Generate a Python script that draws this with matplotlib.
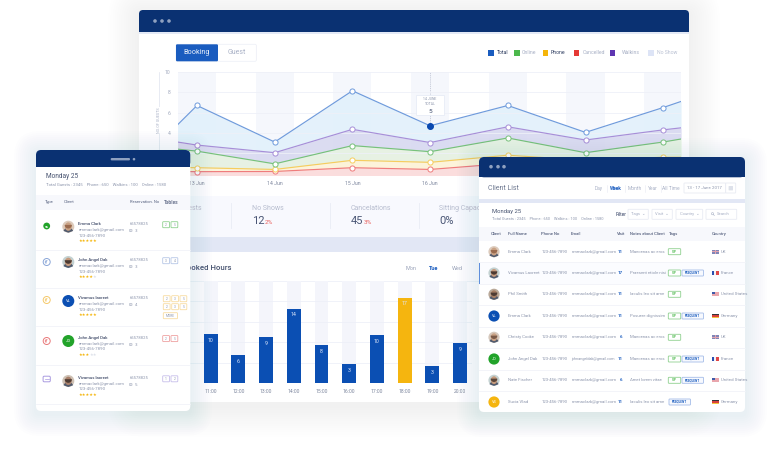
import matplotlib
matplotlib.use("Agg")
import matplotlib.pyplot as plt
from matplotlib.patches import FancyBboxPatch, Rectangle, Circle, Ellipse, Wedge

plt.rcParams['font.family'] = ['Roboto', 'DejaVu Sans']

# ---------- data ----------
days = ['13 Jun', '14 Jun', '15 Jun', '16 Jun', '17 Jun', '18 Jun', '19 Jun']
visible_days = days[:4]
x_line = [-0.25, 0, 1, 2, 3, 4, 5, 6, 6.23]
total = [4.8, 6.7, 3.1, 8.15, 4.7, 6.7, 4.05, 6.5, 7.1]
walkins = [3.1, 2.8, 2.05, 4.35, 3.05, 4.6, 3.3, 4.3, 4.5]
online = [2.4, 2.2, 0.95, 2.75, 2.15, 3.5, 2.05, 3.1, 3.4]
phone = [0.6, 0.57, 0.4, 1.3, 1.1, 1.8, 1.3, 1.6, 1.6]
cancelled = [0.2, 0.18, 0.2, 0.57, 0.4, 1.0, 1.0, 1.0, 1.0]
y_ticks = [2, 4, 6, 8, 10]

hours = ['11:00', '12:00', '13:00', '14:00', '15:00', '16:00', '17:00', '18:00', '19:00', '20:00']
bar_values = [9.6, 5.55, 9.0, 14.6, 7.5, 3.7, 9.35, 16.7, 3.4, 7.8]
bar_labels = ['10', '6', '9', '14', '8', '3', '10', '17', '3', '9']
peak_hour = '18:00'

legend_names = ['Total', 'Online', 'Phone', 'Cancelled', 'Walkins', 'No Show']
legend_colors = ['#1a5cbf', '#4cb84c', '#f5b50a', '#e53935', '#5e35b1', '#dde4f6']
legend_sq_x = [491, 517, 545.5, 576.5, 612.5, 651]
legend_tx_x = [496.5, 522, 550.5, 583, 622, 657]
legend_text = ['#2b3a5e', '#a9b1c6', '#2b3a5e', '#a9b1c6', '#a9b1c6', '#b9c0d2']

res_names = ['Emma Clark', 'John Angel Dak', 'Vivamus laoreet', 'John Angel Dak', 'Vivamus laoreet']
res_email = 'emmaclark@gmail.com'
res_phone = '123-456-7890'
res_stars = [5, 4, 5, 3, 5]
res_no = ['65578825', '65578825', '65578825', '65578825', '65578825']
res_guest = ['3', '3', '4', '3', '5']
res_colors = ['#4cb84c', '#8aa6d8', '#f5c96a', '#e9797a', '#a99ae0']

client_names = ['Emma Clark', 'Vivamus Laoreet', 'Phil Smith', 'Emma Clark', 'Christy Cooke',
                'John Angel Dak', 'Nate Fischer', 'Sucia Vlad']
client_mail = ['emmaclark@gmail.com'] * 5 + ['johnangeldak@gmail.com'] + ['emmaclark@gmail.com'] * 2
client_visit = ['11', '17', '11', '11', '6', '11', '6', '11']
client_notes = ['Maecenas ac eros', 'Praesent etiole nisi', 'Iaculis leo sit ame', 'Posuere dignissim',
                'Maecenas ac eros', 'Maecenas ac eros', 'Amet lorem vitae', 'Iaculis leo sit ame']
client_vip = [1, 1, 1, 1, 1, 1, 1, 0]
client_freq = [0, 1, 0, 1, 0, 1, 1, 1]
client_country = ['UK', 'France', 'United States', 'Germany', 'UK', 'France', 'United States', 'Germany']

# ---------- helpers ----------
W, H = 782, 450
fig = plt.figure(figsize=(W / 100, H / 100), dpi=100, facecolor='white')


def px_axes(x0, y0, x1, y1, z):
    return fig.add_axes([x0 / W, 1 - y1 / H, (x1 - x0) / W, (y1 - y0) / H], zorder=z)


def page_axes(z):
    a = fig.add_axes([0, 0, 1, 1], zorder=z)
    a.set_xlim(0, W)
    a.set_ylim(H, 0)
    a.axis('off')
    a.patch.set_alpha(0)
    return a


def rrect(a, x0, y0, x1, y1, r=1.5, fc='white', ec='none', lw=0.5, alpha=None, z=2):
    p = FancyBboxPatch((x0 + r, y0 + r), x1 - x0 - 2 * r, y1 - y0 - 2 * r,
                       boxstyle=f'round,pad={r},rounding_size={r}',
                       fc=fc, ec=ec, lw=lw, alpha=alpha, zorder=z)
    a.add_patch(p)
    return p


def rect(a, x0, y0, x1, y1, fc, z=2, alpha=None):
    a.add_patch(Rectangle((x0, y0), x1 - x0, y1 - y0, fc=fc, ec='none', zorder=z, alpha=alpha))


def txt(a, x, y, s, size=3.6, color='#8d96ad', ha='left', weight='normal', z=5, **kw):
    return a.text(x, y, s, fontsize=size, color=color, ha=ha, va='center', weight=weight, zorder=z, **kw)


def shadow(a, x0, y0, x1, y1, n=12, step=2.2, alpha=0.005, dy=4):
    for i in range(n, 0, -1):
        g = i * step
        rrect(a, x0 - g, y0 - g + dy, x1 + g, y1 + g + dy, r=4 + g, fc='#5a78b5', alpha=alpha, z=1)


def avatar(a, x, y, r, kind):
    if kind in ('#0b4fb3', '#22a32a', '#f5b50f'):
        a.add_patch(Circle((x, y), r, fc=kind, ec='none', zorder=4))
        return
    bg, skin, hair = kind
    a.add_patch(Circle((x, y), r, fc=bg, ec='none', zorder=4))
    a.add_patch(Wedge((x, y + r), r * 0.85, 200, 340, fc='#4f5a6e', ec='none', zorder=5))
    a.add_patch(Ellipse((x, y - r * 0.02), r * 1.15, r * 1.4, fc=skin, ec='none', zorder=6))
    a.add_patch(Wedge((x, y - r * 0.3), r * 0.6, 0, 180, fc=hair, ec='none', zorder=7))


def flag(a, x, y, country):
    w, h = 6.5, 4.2
    if country == 'France':
        for i, c in enumerate(['#2b4fb0', '#f2f2f6', '#e04848']):
            rect(a, x + i * w / 3, y - h / 2, x + (i + 1) * w / 3, y + h / 2, c, z=5)
    elif country == 'Germany':
        for i, c in enumerate(['#33333a', '#d8403a', '#f3c33c']):
            rect(a, x, y - h / 2 + i * h / 3, x + w, y - h / 2 + (i + 1) * h / 3, c, z=5)
    elif country == 'UK':
        rect(a, x, y - h / 2, x + w, y + h / 2, '#7f86b8', z=5)
        rect(a, x + w * 0.42, y - h / 2, x + w * 0.58, y + h / 2, '#e2a4b0', z=5)
        rect(a, x, y - 0.5, x + w, y + 0.5, '#e2a4b0', z=5)
    else:
        rect(a, x, y - h / 2, x + w, y + h / 2, '#e9a6ad', z=5)
        rect(a, x, y - h / 2, x + w * 0.45, y, '#3f5aa8', z=5)


# ---------- back layer: main window ----------
base = page_axes(0)
shadow(base, 139, 10, 689, 402, n=14, step=2.2, alpha=0.005)
rrect(base, 139, 10, 689, 402, r=4, fc='white')
rrect(base, 139, 10, 689, 32, r=4, fc='#0a3172', z=3)
rect(base, 139, 20, 689, 32, '#0a3172', z=3)
rect(base, 139, 32, 689, 33.8, '#e3e9f6', z=3)
for x in (155, 162, 169):
    base.add_patch(Circle((x, 21), 1.8, fc='#8fa1c0', ec='none', zorder=4))

rrect(base, 176, 44.3, 256.4, 61.3, r=1.5, fc='white', ec='#eef0f7', lw=0.6, z=3)
rrect(base, 176, 44.3, 218, 61.3, r=1.2, fc='#1a5cbf', z=4)
txt(base, 197, 52.8, 'Booking', 5.2, '#eaf0fb', ha='center')
txt(base, 237, 52.8, 'Guest', 5.0, '#a9b1c6', ha='center')
for n, c, sx, tx, tc in zip(legend_names, legend_colors, legend_sq_x, legend_tx_x, legend_text):
    rect(base, sx - 2.7, 50.3, sx + 2.7, 55.7, c, z=4)
    txt(base, tx, 53, n, 3.7, tc)

base.plot([158.6, 158.6], [72, 108], color='#dfe3ee', lw=0.5, zorder=3)
base.plot([158.6, 158.6], [133, 175], color='#dfe3ee', lw=0.5, zorder=3)
txt(base, 158.6, 120, 'NO.OF GUESTS', 2.7, '#a9b1c6', ha='center', rotation=90, bbox=dict(fc='white', ec='none', pad=0.4))

# stat strip
rect(base, 139, 196, 689, 237, '#f8f9fe', z=3)
rect(base, 139, 237, 689, 252, '#e2e7f5', z=3)
for x in (231.3, 330, 419.3):
    base.plot([x, x], [203, 228], color='#e9ecf5', lw=0.6, zorder=4)
txt(base, 201.7, 209, 'Total Guests', 5.0, '#b7bdcf', ha='right')
txt(base, 251.7, 209, 'No Shows', 5.0, '#b7bdcf')
txt(base, 251.7, 221, '12', 8.0, '#4a5675')
txt(base, 264.7, 222, '2%', 4.6, '#e9615e')
txt(base, 350.7, 209, 'Cancelations', 5.0, '#b7bdcf')
txt(base, 350.7, 221, '45', 8.0, '#4a5675')
txt(base, 364, 222, '3%', 4.6, '#e9615e')
txt(base, 439.3, 209, 'Sitting Capacity', 5.0, '#b7bdcf')
txt(base, 439.3, 221, '0%', 8.0, '#4a5675')

txt(base, 231, 268, 'Booked Hours', 5.6, '#46526f', ha='right', weight='medium')
txt(base, 410.7, 268, 'Mon', 4.0, '#98a1b8', ha='center')
txt(base, 434, 268, 'Tue', 4.0, '#1a5cbf', ha='center', weight='bold')
txt(base, 457.3, 268, 'Wed', 4.0, '#98a1b8', ha='center')
base.plot([190, 689], [281, 281], color='#eef0f8', lw=0.6, zorder=4)

# ---------- line chart ----------
lx0, lx1 = 177.5, 681
ly0, ly1 = 72, 175
lax = px_axes(lx0, ly0, lx1, ly1, 1)
step = 77.7
lax.set_xlim((lx0 - 197) / step, (lx1 - 197) / step)
lax.set_ylim((173.5 - ly1) / 10.15, (173.5 - ly0) / 10.15)
lax.patch.set_alpha(0)
for s in lax.spines.values():
    s.set_visible(False)
for i in range(len(days)):
    lax.axvspan(i - 0.245, i + 0.245, color='#f5f7fc', lw=0, zorder=0)
lax.set_yticks(y_ticks)
lax.set_yticklabels([str(v) for v in y_ticks])
lax.set_xticks(range(len(visible_days)))
lax.set_xticklabels(visible_days)
lax.tick_params(axis='y', length=0, labelsize=3.6, labelcolor='#a0a8bd', pad=5)
lax.tick_params(axis='x', length=0, labelsize=3.7, labelcolor='#7d869e', pad=4.5)
lax.grid(axis='y', color='#eef0f8', lw=0.6, zorder=1)
lax.set_axisbelow(False)

layers = [(total, walkins, '#e3f1fb'), (walkins, online, '#d9daf1'), (online, phone, '#e6f1e2'),
          (phone, cancelled, '#fdf3d8')]
for hi, lo, c in layers:
    lax.fill_between(x_line, lo, hi, color=c, lw=0, alpha=0.95, zorder=2)
lax.fill_between(x_line, -1, cancelled, color='#fbdcdc', lw=0, alpha=0.95, zorder=2)
series = [(cancelled, '#ef7c7c'), (phone, '#f6cd5e'), (online, '#77c27a'), (walkins, '#a78fd8'), (total, '#6f9bdc')]
inner = list(range(1, len(x_line) - 1))
for vals, c in series:
    lax.plot(x_line, vals, color=c, lw=0.85, zorder=3, marker='o', ms=3.7, mfc='white', mec=c, mew=0.7,
             markevery=inner)
sel = days.index('16 Jun')
lax.plot([sel, sel], [total[sel + 1], 10], color='#b6bccd', lw=0.5, ls=(0, (1.5, 1.2)), zorder=2.5)
lax.plot([sel], [total[sel + 1]], marker='o', ms=4, color='#0b49b0', zorder=4)
lax.annotate('14 JUNE\nTOTAL', xy=(sel, total[sel + 1]), xytext=(0, 17.2), textcoords='offset points',
             ha='center', va='center', fontsize=2.5, color='#8d96ad', zorder=7, linespacing=1.3)
lax.annotate('5', xy=(sel, total[sel + 1]), xytext=(0, 10.6), textcoords='offset points',
             ha='center', va='center', fontsize=4.6, color='#3c4a6b', zorder=7)
lax.add_patch(Rectangle((sel - 0.18, 5.76), 0.36, 1.97, fc='white', ec='#e8ecf6', lw=0.6, zorder=6))

# ---------- bar chart ----------
bx0, bx1 = 190, 472
by0, by1 = 281, 383.3
bax = px_axes(bx0, by0, bx1, by1, 1)
bstep = 27.7
bax.set_xlim((bx0 - 210.7) / bstep, (bx1 - 210.7) / bstep)
bax.set_ylim(0, 20)
bax.patch.set_alpha(0)
for s in bax.spines.values():
    s.set_visible(False)
xs = list(range(len(hours)))
bax.bar(xs, [20] * len(xs), width=0.5, color='#f4f5fb', zorder=1)
bax.set_yticks([0, 4, 8, 12, 16])
bax.set_yticklabels([])
bax.grid(axis='y', color='#eef0f8', lw=0.6, zorder=2)
bax.set_axisbelow(False)
bar_colors = ['#f5b50f' if h == peak_hour else '#0b4fb3' for h in hours]
bax.bar(xs, bar_values, width=0.5, color=bar_colors, zorder=3)
for i, (v, lab) in enumerate(zip(bar_values, bar_labels)):
    bax.annotate(lab, xy=(i, v), xytext=(0, -4.4), textcoords='offset points', ha='center', va='center',
                 fontsize=3.8, color='#dfe8fa', zorder=4)
bax.set_xticks(xs)
bax.set_xticklabels(hours)
bax.tick_params(axis='x', length=0, labelsize=3.6, labelcolor='#7d869e', pad=4.3)
bax.tick_params(axis='y', length=0)

# ---------- front layer: tablet and client list ----------
top = page_axes(2)

# tablet
shadow(top, 36, 150, 190, 411, n=11, step=2.0, alpha=0.006, dy=3)
rrect(top, 36, 150, 190.3, 411, r=5, fc='white')
rrect(top, 36, 150, 190.3, 167, r=5, fc='#0a3172', z=3)
rect(top, 36, 158, 190.3, 167, '#0a3172', z=3)
rrect(top, 110.7, 158, 130, 160.4, r=1.1, fc='#8fa1c0', z=4)
top.add_patch(Circle((134, 159.2), 1.3, fc='#8fa1c0', ec='none', zorder=4))
txt(top, 46, 177, 'Monday 25', 4.7, '#46526f')
txt(top, 46, 185, 'Total Guests : 2345    Phone : 650    Walkins : 100    Online : 1580', 3.1, '#8d96ad')
rect(top, 36, 195, 190.3, 210, '#f7f8fc', z=3)
for x, s, w in [(45, 'Type', 'normal'), (64, 'Client', 'normal'), (130, 'Reservation. No', 'normal'),
                (164, 'Tables', 'medium')]:
    txt(top, x, 202, s, 3.0 if s != 'Tables' else 3.5, '#56617f', weight=w)
for y in (250, 288, 326, 365, 404):
    top.plot([36, 190.3], [y, y], color='#f1f3f9', lw=0.6, zorder=3)

name_y = [224, 260, 298.3, 337.7, 377.7]
avatar_y = [226.7, 262, 301, 341, 381]
icon_y = [226, 262, 300, 341, 379]
res_avatar = [('#dccabb', '#c9a184', '#9a6b4e'), ('#c4d2d2', '#c59a7c', '#4c3a32'), '#0b4fb3', '#22a32a',
              ('#cfc2b5', '#a9806a', '#4d3b33')]
res_init = ['', '', 'VL', 'JD', '']
star_w = 3.55
for i in range(5):
    y = name_y[i]
    c = res_colors[i]
    ix, iy = 46.7, icon_y[i]
    if i == 0:
        top.add_patch(Circle((ix, iy), 3.4, fc='#22a32a', ec='none', zorder=4))
        top.add_patch(Wedge((ix, iy), 1.8, 40, 160, fc='white', ec='none', zorder=5))
    elif i == 4:
        rrect(top, ix - 3.6, iy - 2.8, ix + 3.6, iy + 2.8, r=1.2, fc='white', ec=c, lw=0.7, z=4)
        top.plot([ix - 1.8, ix + 1.8], [iy, iy], color=c, lw=0.5, zorder=5)
    else:
        top.add_patch(Circle((ix, iy), 3.5, fc='white', ec=c, lw=0.7, zorder=4))
        top.add_patch(Wedge((ix, iy), 1.9, 100, 300, fc=c, ec='none', zorder=5, alpha=0.8))
    avatar(top, 68.3, avatar_y[i], 6, res_avatar[i])
    if res_init[i]:
        txt(top, 68.3, avatar_y[i], res_init[i], 3.0, 'white', ha='center', z=6)
    txt(top, 78.3, y, res_names[i], 3.1, '#3f4a68', weight='medium')
    txt(top, 78.3, y + 6, res_email, 3.2, '#8d96ad')
    txt(top, 78.3, y + 11.6, res_phone, 3.2, '#8d96ad')
    n = res_stars[i]
    txt(top, 78.3, y + 16.9, '★' * n, 3.0, '#f5b50a', family='DejaVu Sans')
    if n < 5:
        txt(top, 78.6 + n * star_w, y + 16.9, '★' * (5 - n), 3.0, '#dde1ea', family='DejaVu Sans')
    txt(top, 129.3, y, res_no[i], 3.0, '#8d96ad')
    txt(top, 129.3, y + 7, '⛁  ' + res_guest[i], 3.0, '#8d96ad', family='DejaVu Sans')


def table_box(x, y, s, c, w=6.8, h=6.0):
    rrect(top, x, y, x + w, y + h, r=0.7, fc='white', ec=c, lw=0.6, alpha=None, z=4)
    txt(top, x + w / 2, y + h / 2, s, 2.3, '#8d96ad', ha='center', z=5)


table_box(162.7, 221.7, '2', '#8fd08f')
table_box(171, 221.7, '5', '#8fd08f')
table_box(162.7, 257.7, '3', '#b6c6e6')
table_box(171, 257.7, '4', '#b6c6e6')
for x, s in zip((163.3, 171.7, 180), '235'):
    table_box(x, 295.7, s, '#f8dca0')
    table_box(x, 303.7, s, '#f8dca0')
table_box(163.3, 312.7, 'MORE', '#f8dca0', w=14.2)
table_box(162.7, 335.6, '2', '#eea0a0')
table_box(171, 335.6, '5', '#eea0a0')
table_box(162.7, 375.8, '1', '#c6bdea')
table_box(171, 375.8, '2', '#c6bdea')

# client list window
shadow(top, 479, 157, 745, 412, n=11, step=2.0, alpha=0.006, dy=3)
rrect(top, 479, 157, 745, 412, r=5, fc='white')
rrect(top, 479, 157, 745, 177.3, r=5, fc='#0a3172', z=3)
rect(top, 479, 166, 745, 177.3, '#0a3172', z=3)
for x in (491, 498, 504):
    top.add_patch(Circle((x, 166.7), 1.8, fc='#8fa1c0', ec='none', zorder=4))
txt(top, 488, 188, 'Client List', 5.0, '#6e7890')
for x, s, c, w in [(599, 'Day', '#a9b1c6', 'normal'), (616, 'Week', '#1a5cbf', 'bold'),
                   (635, 'Month', '#a9b1c6', 'normal'), (653, 'Year', '#a9b1c6', 'normal'),
                   (671, 'All Time', '#a9b1c6', 'normal')]:
    txt(top, x, 188.5, s, 3.5, c, ha='center', weight=w)
for x in (606.5, 625, 645, 661):
    top.plot([x, x], [185, 192], color='#e6e9f2', lw=0.4, zorder=4)
rrect(top, 684, 183, 725.7, 193, r=0.6, fc='white', ec='#e8ebf3', lw=0.6, z=4)
rrect(top, 725.7, 183, 735.7, 193, r=0.6, fc='white', ec='#e8ebf3', lw=0.6, z=4)
txt(top, 704.8, 188, '13 - 17 June 2017', 3.2, '#8d96ad', ha='center')
rrect(top, 728.6, 186, 733, 190.4, r=0.5, fc='#dde1ea', z=5)
rect(top, 479, 199, 745, 203.3, '#e2e7f5', z=3)
txt(top, 492, 211.7, 'Monday 25', 4.2, '#46526f')
txt(top, 492, 219, 'Total Guests : 2345    Phone : 650    Walkins : 100    Online : 1580', 2.8, '#8d96ad')
txt(top, 616, 214, 'Filter', 3.4, '#56617f', weight='medium')
for x0, x1, s in [(628, 648.3, 'Tags  ⌄'), (652, 672.3, 'Visit  ⌄'), (676, 702.7, 'Country  ⌄'), (706, 736.7, 'Search')]:
    rrect(top, x0, 209.3, x1, 219.3, r=0.6, fc='white', ec='#e8ebf3', lw=0.6, z=4)
    txt(top, (x0 + x1) / 2 + (2 if s == 'Search' else 0), 214, s, 3.0, '#a9b1c6', ha='center')
top.add_patch(Circle((712.5, 213.7), 1.1, fc='none', ec='#a9b1c6', lw=0.4, zorder=5))
top.plot([713.3, 714.4], [214.5, 215.6], color='#a9b1c6', lw=0.4, zorder=5)
rect(top, 479, 227.3, 745, 240.7, '#f7f8fc', z=3)
for x, s in [(491, 'Client'), (508, 'Full Name'), (540.7, 'Phone No'), (571, 'Email'), (617, 'Visit'),
             (629.5, 'Notes about Client'), (669, 'Tags'), (712, 'Country')]:
    txt(top, x, 233.7, s, 3.1, '#56617f', weight='medium')

row_y = [251.7, 273, 294.3, 316, 337.3, 359, 380.3, 402]
client_avatar = [('#dccabb', '#c9a184', '#9a6b4e'), ('#c4d2d2', '#c59a7c', '#4c3a32'),
                 ('#b9a898', '#a47c62', '#4d3b33'), '#0b4fb3', ('#d6c8bc', '#c9a184', '#7a5a48'), '#22a32a',
                 ('#c4d2d2', '#c59a7c', '#5a463a'), '#f5b50f']
client_init = ['', '', '', 'VL', '', 'JD', '', 'VS']
rect(top, 479, 262.5, 745, 283.5, '#fbfcff', z=3)
rect(top, 479, 262.5, 480, 283.5, '#5f8fdc', z=4)
for i, y in enumerate(row_y):
    if i < len(row_y) - 1:
        top.plot([479, 745], [y + 10.7, y + 10.7], color='#f1f3f9', lw=0.6, zorder=3)
    avatar(top, 494, y, 5.6, client_avatar[i])
    if client_init[i]:
        txt(top, 494, y, client_init[i], 2.8, 'white', ha='center', z=6)
    txt(top, 508.5, y, client_names[i], 3.1, '#8d96ad')
    txt(top, 541.5, y, '123-456-7890', 3.1, '#8d96ad')
    mail = client_mail[i]
    txt(top, 571.5, y, mail, 3.1 if len(mail) < 20 else 2.7, '#8d96ad')
    txt(top, 620.5, y, client_visit[i], 3.2, '#1a5cbf', ha='center', weight='bold')
    txt(top, 629.5, y, client_notes[i], 3.1, '#8d96ad')
    if client_vip[i]:
        rrect(top, 668.3, y - 3, 680.7, y + 3, r=0.7, fc='white', ec='#8fd08f', lw=0.6, z=4)
        txt(top, 674.5, y, 'VIP', 2.2, '#4cb84c', ha='center', weight='bold')
    if client_freq[i]:
        x0 = 682 if client_vip[i] else 669
        rrect(top, x0, y - 3, x0 + 21.5, y + 3, r=0.7, fc='#f7f9fe', ec='#a4bce8', lw=0.6, z=4)
        txt(top, x0 + 10.7, y, 'FREQUENT', 2.2, '#1a5cbf', ha='center', weight='bold')
    flag(top, 712, y, client_country[i])
    txt(top, 721, y, client_country[i], 3.2, '#8d96ad')

fig.savefig('out.png', dpi=100)
